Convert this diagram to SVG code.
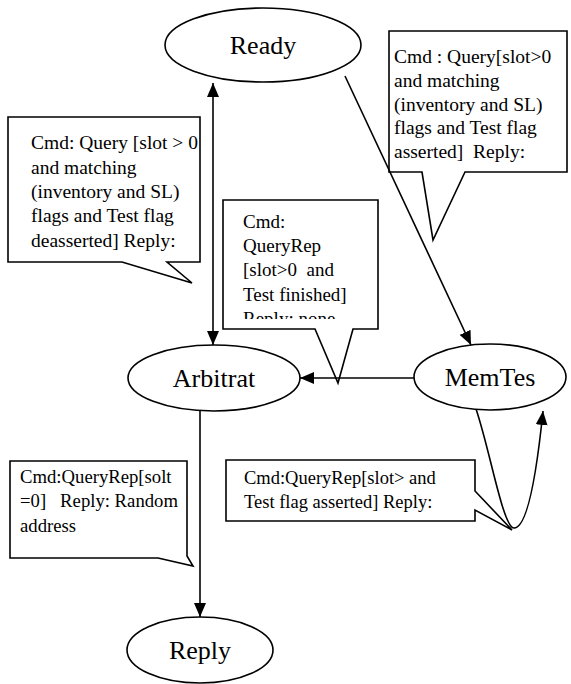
<svg xmlns="http://www.w3.org/2000/svg" width="571" height="684" viewBox="0 0 571 684">
<style>
.node ellipse{fill:#fff;stroke:#000;stroke-width:1.6}
.node text{font-size:26px;fill:#000;text-anchor:middle}
.callout path{fill:#fff;stroke:#000;stroke-width:1.6}
.callout text{fill:#000}
.edge{fill:none;stroke:#000;stroke-width:1.6}
text{font-family:'Liberation Serif','Times New Roman','DejaVu Serif',serif}
</style>
<defs>
<marker id="ah" viewBox="0 0 14 12" refX="14" refY="6" markerWidth="14" markerHeight="12" markerUnits="userSpaceOnUse" orient="auto-start-reverse">
<path d="M0,0 L14,6 L0,12 Z" fill="#000"/>
</marker>
<clipPath id="c3"><rect x="223" y="200" width="155" height="119"/></clipPath>
</defs>
<g id="note1" class="callout" font-size="19.5">
<path d="M8,117 H200 V262 H167 L192,283 L122,262 H8 Z"/>
<text x="31" y="149">Cmd: Query [slot &gt; 0</text>
<text x="31" y="174">and matching</text>
<text x="31" y="198">(inventory and SL)</text>
<text x="31" y="222">flags and Test flag</text>
<text x="31" y="247">deasserted] Reply:</text>
</g>
<g id="note2" class="callout" font-size="19.5">
<path d="M389,31 H567 V172 H465 L433,240 L422,172 H389 Z"/>
<text x="394" y="63">Cmd : Query[slot&gt;0</text>
<text x="394" y="87">and matching</text>
<text x="394" y="111">(inventory and SL)</text>
<text x="394" y="134">flags and Test flag</text>
<text x="394" y="158" xml:space="preserve">asserted]  Reply:</text>
</g>
<g id="note3" class="callout" font-size="19">
<path d="M223,200 H378 V329 H353 L338,383 L315,329 H223 Z"/>
<g clip-path="url(#c3)">
<text x="243" y="228">Cmd:</text>
<text x="243" y="252">QueryRep</text>
<text x="243" y="276" xml:space="preserve">[slot&gt;0  and</text>
<text x="243" y="301">Test finished]</text>
<text x="243" y="325">Reply: none</text>
</g>
</g>
<g id="note4" class="callout" font-size="18.5">
<path d="M226,460 H475 V491 L512,530 L475,510 V521 H226 Z"/>
<text x="244" y="484">Cmd:QueryRep[slot&gt; and</text>
<text x="244" y="508">Test flag asserted] Reply:</text>
</g>
<g id="note5" class="callout" font-size="18.7">
<path d="M10,461 H187 V556 L193,566 L158,558 H10 Z"/>
<text x="20" y="483">Cmd:QueryRep[solt</text>
<text x="20" y="507" xml:space="preserve">=0]   Reply: Random</text>
<text x="20" y="532">address</text>
</g>
<g id="connectors">
<line class="edge" x1="213" y1="83" x2="213" y2="345" marker-start="url(#ah)" marker-end="url(#ah)"/>
<line class="edge" x1="345" y1="76" x2="471" y2="345" marker-end="url(#ah)"/>
<line class="edge" x1="414" y1="378" x2="300" y2="378" marker-end="url(#ah)"/>
<line class="edge" x1="200" y1="411" x2="200" y2="617" marker-end="url(#ah)"/>
<path class="edge" d="M476,409 C490,450 503,528 514,528 C528,528 537,470 543,411" marker-end="url(#ah)"/>
</g>
<g id="ready" class="node"><ellipse cx="263" cy="45" rx="98" ry="37"/><text x="263" y="54">Ready</text></g>
<g id="arbitrat" class="node"><ellipse cx="214" cy="378" rx="86" ry="33"/><text x="214" y="387">Arbitrat</text></g>
<g id="memtes" class="node"><ellipse cx="490" cy="377" rx="76" ry="33"/><text x="490" y="386">MemTes</text></g>
<g id="reply" class="node"><ellipse cx="200" cy="650" rx="73" ry="33"/><text x="200" y="659">Reply</text></g>
</svg>
